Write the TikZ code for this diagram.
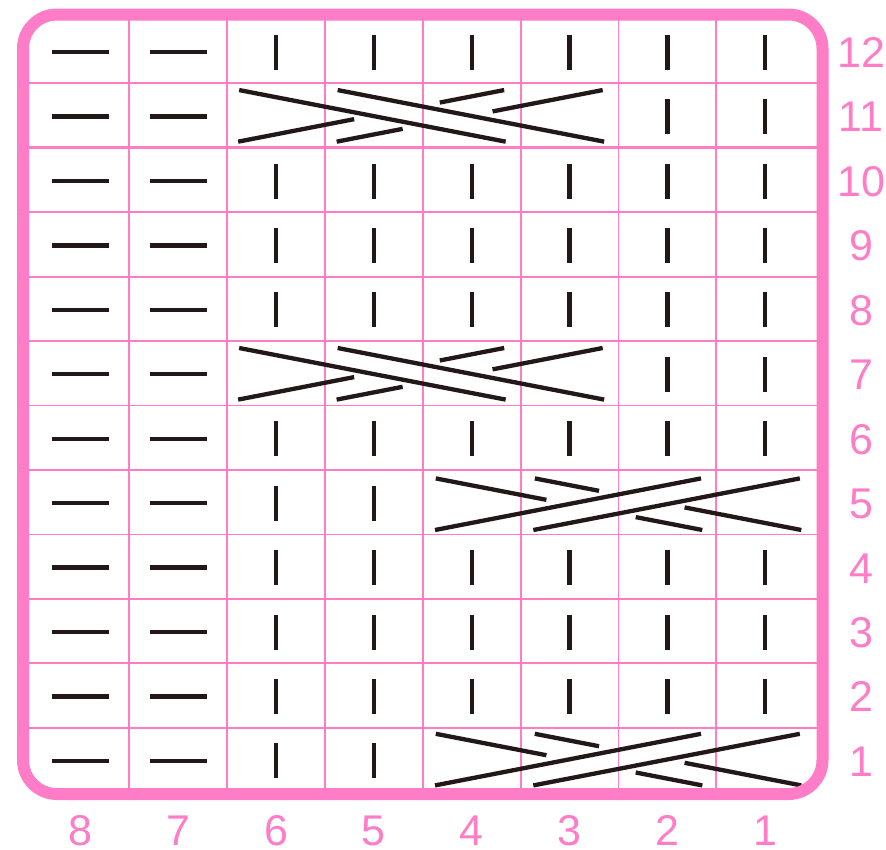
\documentclass[tikz,border=0pt]{standalone}
\usepackage{fontspec}
\setmainfont{Liberation Sans}
\usetikzlibrary{calc}
\definecolor{pk}{RGB}{255,125,198}
\definecolor{ink}{RGB}{35,24,24}
\newcommand\cabledown[2]{%
  \pgfmathsetmacro\ct{#2-25.8}\pgfmathsetmacro\cb{#2+25.8}%
  \coordinate (fa1) at ({#1+12},\ct);   \coordinate (fa2) at ({#1+278.5},\cb);
  \coordinate (fb1) at ({#1+110.5},\ct); \coordinate (fb2) at ({#1+377},\cb);
  \coordinate (ba1) at ({#1+11},\cb);   \coordinate (ba2) at ({#1+277},\ct);
  \coordinate (bb1) at ({#1+109.5},\cb); \coordinate (bb2) at ({#1+375.5},\ct);
  \draw[stitch] (fa1) -- (fa2) (fb1) -- (fb2);
  \draw[stitch] (ba1) -- ($(ba1)!0.436!(ba2)$) ($(ba1)!0.758!(ba2)$) -- (ba2);
  \draw[stitch] (bb1) -- ($(bb1)!0.248!(bb2)$) ($(bb1)!0.586!(bb2)$) -- (bb2);
}
\newcommand\cableup[2]{%
  \pgfmathsetmacro\ct{#2-25.8}\pgfmathsetmacro\cb{#2+25.8}%
  \coordinate (fa1) at ({#1+12.2},\cb);  \coordinate (fa2) at ({#1+278.2},\ct);
  \coordinate (fb1) at ({#1+110.5},\cb); \coordinate (fb2) at ({#1+377},\ct);
  \coordinate (ba1) at ({#1+13},\ct);    \coordinate (ba2) at ({#1+279.5},\cb);
  \coordinate (bb1) at ({#1+112},\ct);   \coordinate (bb2) at ({#1+378.5},\cb);
  \draw[stitch] (fa1) -- (fa2) (fb1) -- (fb2);
  \draw[stitch] (ba1) -- ($(ba1)!0.415!(ba2)$) ($(ba1)!0.75!(ba2)$) -- (ba2);
  \draw[stitch] (bb1) -- ($(bb1)!0.241!(bb2)$) ($(bb1)!0.562!(bb2)$) -- (bb2);
}
\begin{document}
\begin{tikzpicture}[x=1pt,y=-1pt,
  gridline/.style={pk,line width=1.8},
  thickgrid/.style={pk,line width=3},
  border/.style={pk,line width=12,rounded corners=34},
  stitch/.style={ink,line width=4.3,line cap=butt},
  lab/.style={pk,font=\fontsize{43}{43}\selectfont,inner sep=0pt,
              text height=30.8pt,text depth=0pt,anchor=center}]
\useasboundingbox (0,0) rectangle (886,849);
\fill[white] (0,0) rectangle (886,849);
% grid
\foreach \j in {1,...,11} {
  \pgfmathsetmacro\yy{18.9+\j*64.44}
  \ifnum\j=2
    \draw[thickgrid] (23,\yy) -- (822.5,\yy);
  \else
    \draw[gridline] (23,\yy) -- (822.5,\yy);
  \fi
}
\foreach \i in {1,...,7} {
  \pgfmathsetmacro\xx{31.5+\i*97.83}
  \draw[gridline] (\xx,14.5) -- (\xx,794);
}
% single stitches
\foreach \r in {1,...,12} {
  \foreach \k in {1,...,8} {
    \pgfmathsetmacro\cx{31.5+(8.5-\k)*97.83}
    \pgfmathsetmacro\cy{18.9+(12.5-\r)*64.44+1}
    \pgfmathtruncatemacro\skipc{(((\r==11) || (\r==7)) && (\k>=3) && (\k<=6)) || (((\r==5) || (\r==1)) && (\k<=4)) ? 1 : 0}
    \ifnum\k>6
      \draw[stitch] ({\cx-28.5},\cy) -- ({\cx+28.5},\cy);
    \else
      \ifnum\skipc=0
        \draw[stitch] (\cx,{\cy-17.5}) -- (\cx,{\cy+17.5});
      \fi
    \fi
  }
}
% cables
\cabledown{227.16}{115.86}
\cabledown{227.16}{373.8}
\cableup{422.82}{504.2}
\cableup{422.82}{759.6}
% border
\draw[border] (23,14.5) rectangle (822.5,794);
% labels
\foreach \r in {1,...,12} {
  \pgfmathsetmacro\cy{18.9+(12.5-\r)*64.44+1}
  \node[lab] (row\r) at (861,\cy) {\r};
}
\foreach \k in {1,...,8} {
  \pgfmathsetmacro\cx{31.5+(8.5-\k)*97.83}
  \node[lab] (col\k) at (\cx,830) {\k};
}
\end{tikzpicture}
\end{document}
